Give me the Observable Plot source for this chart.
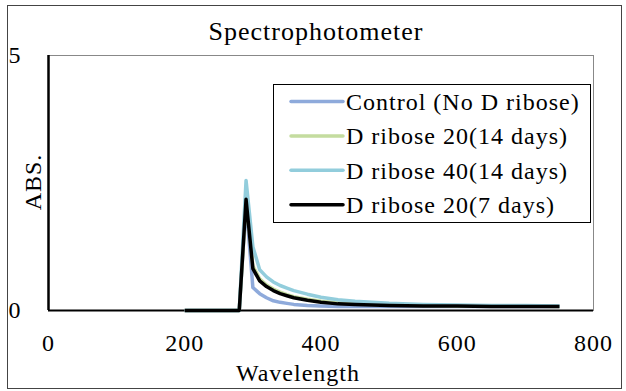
<!DOCTYPE html>
<html>
<head>
<meta charset="utf-8">
<script src="https://cdn.jsdelivr.net/npm/d3@7"></script>
<script src="https://cdn.jsdelivr.net/npm/@observablehq/plot@0.6"></script>
<style>
  html, body { margin: 0; padding: 0; background: white; }
  #wrap { position: relative; width: 626px; height: 391px; overflow: hidden;
          font-family: "Liberation Serif", "Times New Roman", serif; color: #000; }
  #wrap svg.plotsvg { position: absolute; left: 0; top: 0; }
  .abs { position: absolute; white-space: nowrap; }
  #border { position: absolute; left: 7px; top: 5px; width: 613px; height: 382px; border: 1px solid #444; }
  #title { left: 0; width: 632px; top: 16px; text-align: center; font-size: 26px; letter-spacing: 1px; line-height: 32px; }
  #xlabel { left: 0; width: 596px; top: 358px; text-align: center; font-size: 24px; letter-spacing: 1px; line-height: 30px; }
  #ylabel { left: 33px; top: 182px; font-size: 24px; letter-spacing: 1px; line-height: 30px;
            transform: translate(-50%, -50%) rotate(-90deg); }
  #legend { position: absolute; left: 273px; top: 84px; width: 316px; height: 137px; border: 1.5px solid #000; background: white; }
</style>
</head>
<body>
<div id="wrap">
  <div id="chart"></div>
  <div id="border"></div>
  <div id="title" class="abs">Spectrophotometer</div>
  <div id="xlabel" class="abs">Wavelength</div>
  <div id="ylabel" class="abs">ABS.</div>
  <div id="legend"></div>
</div>
<script>
// ---- data ----
const wavelengths = [200, 280, 290, 300, 310, 320, 330, 340, 350, 360, 380, 400, 425, 450, 500, 550, 600, 650, 700, 750];
const seriesNames = ["Control (No D ribose)", "D ribose 20(14 days)", "D ribose 40(14 days)", "D ribose 20(7 days)"];
const seriesColors = ["#8eaadb", "#c4dc9f", "#92cddc", "#000000"];
const control  = [0, 0, 2.10, 0.45, 0.33, 0.25, 0.19, 0.16, 0.14, 0.12, 0.10, 0.09, 0.08, 0.08, 0.08, 0.08, 0.08, 0.08, 0.08, 0.08];
const dr20_14  = [0, 0, 2.15, 0.87, 0.62, 0.50, 0.42, 0.36, 0.31, 0.27, 0.22, 0.18, 0.15, 0.13, 0.11, 0.10, 0.09, 0.09, 0.09, 0.08];
const dr40_14  = [0, 0, 2.55, 1.25, 0.80, 0.66, 0.56, 0.49, 0.44, 0.39, 0.32, 0.26, 0.21, 0.18, 0.14, 0.12, 0.11, 0.10, 0.10, 0.09];
const dr20_7   = [0, 0, 2.18, 0.82, 0.58, 0.47, 0.39, 0.33, 0.29, 0.25, 0.20, 0.16, 0.13, 0.12, 0.10, 0.09, 0.09, 0.08, 0.08, 0.08];
const xTicks = [0, 200, 400, 600, 800];
const yTicks = [0, 5];

const seriesValues = [control, dr20_14, dr40_14, dr20_7];
const rows = [];
seriesNames.forEach((name, i) => {
  wavelengths.forEach((w, j) => rows.push({series: name, wl: w, abs: seriesValues[i][j]}));
});

const font = '"Liberation Serif", "Times New Roman", serif';
const plot = Plot.plot({
  width: 626,
  height: 391,
  marginLeft: 48,
  marginRight: 33,
  marginTop: 55,
  marginBottom: 81,
  style: {fontFamily: font, fontSize: "24px", background: "transparent", color: "#000"},
  x: {domain: [0, 800], ticks: xTicks, tickFormat: d3.format("d"), tickSize: 0, tickPadding: 23, label: null},
  y: {domain: [0, 5], ticks: yTicks, tickFormat: d3.format("d"), tickSize: 0, tickPadding: 27, label: null},
  color: {domain: seriesNames, range: seriesColors},
  marks: [
    Plot.frame({stroke: "#888", strokeWidth: 1}),
    Plot.ruleY([0], {stroke: "#000", strokeWidth: 2}),
    Plot.line(rows, {x: "wl", y: "abs", z: "series", stroke: "series", strokeWidth: 3.5, strokeLinejoin: "round", strokeLinecap: "butt"}),
    Plot.ruleX([0], {stroke: "#000", strokeWidth: 2.5})
  ]
});
plot.classList.add("plotsvg");
plot.querySelectorAll("text").forEach(t => t.setAttribute("letter-spacing", "1"));
document.getElementById("chart").appendChild(plot);

// ---- legend ----
const leg = d3.select("#legend").append("svg").attr("width", 316).attr("height", 137)
  .style("position", "absolute").style("left", "0").style("top", "0");
seriesNames.forEach((name, i) => {
  const y = 16.5 + i * 34.4;
  leg.append("line").attr("x1", 17).attr("x2", 69).attr("y1", y).attr("y2", y)
    .attr("stroke", seriesColors[i]).attr("stroke-width", 3.5).attr("stroke-linecap", "round");
  leg.append("text").attr("x", 72).attr("y", y).attr("dy", "0.35em")
    .attr("font-family", font).attr("font-size", 24).attr("letter-spacing", 1)
    .text(name);
});
</script>
</body>
</html>
